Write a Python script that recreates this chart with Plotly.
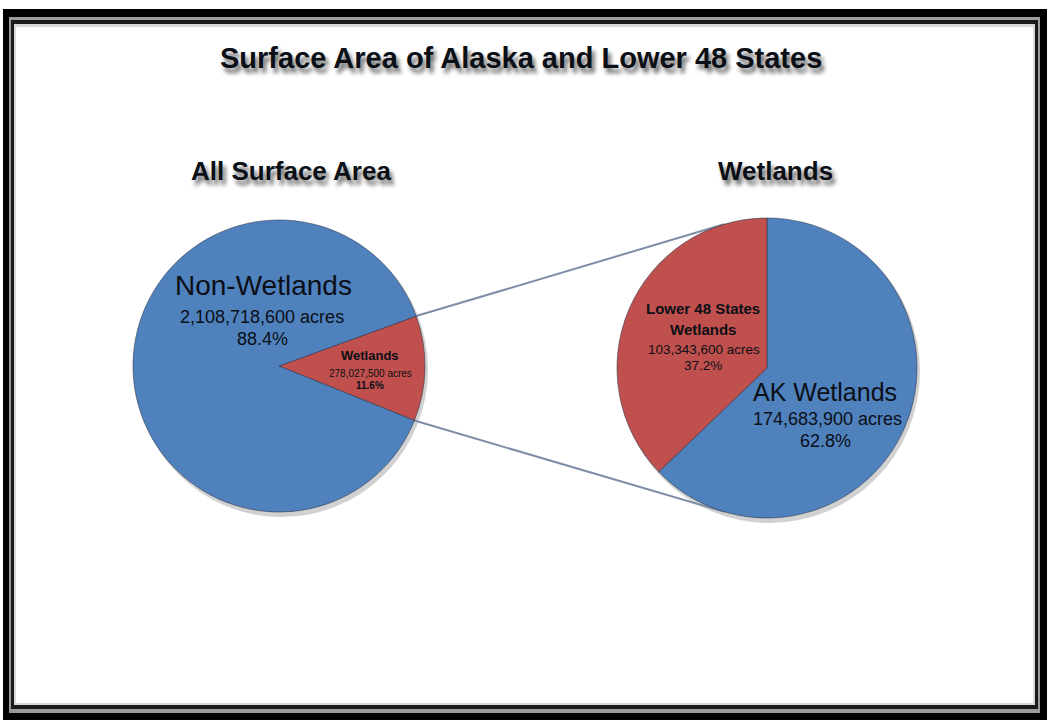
import math
import plotly.graph_objects as go

# ---------------- data ----------------
left_labels = ["Wetlands", "Non-Wetlands"]
left_values = [278027500, 2108718600]
right_labels = ["AK Wetlands", "Lower 48 States Wetlands"]
right_values = [174683900, 103343600]
title_text = "Surface Area of Alaska and Lower 48 States"
left_title = "All Surface Area"
right_title = "Wetlands"

BLUE = "#4F81BD"
RED = "#C0504D"
TXT = "#0b0f16"
W, H = 1047, 720

def fx(x):
    return x / W

def fy(y):
    return 1 - y / H

# pie geometry (pixels)
LCX, LCY, LR = 279, 366, 146
RCX, RCY, RR = 767, 368, 150
L_ROT = 70
R_ROT = 0

fig = go.Figure()
fig.add_trace(go.Pie(
    labels=left_labels, values=left_values, sort=False, direction="clockwise",
    rotation=L_ROT, marker=dict(colors=[RED, BLUE], line=dict(color="rgba(40,50,70,0.55)", width=1)),
    textinfo="none", hoverinfo="label+value+percent",
    domain=dict(x=[fx(LCX - LR), fx(LCX + LR)], y=[fy(LCY + LR), fy(LCY - LR)]),
))
fig.add_trace(go.Pie(
    labels=right_labels, values=right_values, sort=False, direction="clockwise",
    rotation=R_ROT, marker=dict(colors=[BLUE, RED], line=dict(color="rgba(40,50,70,0.55)", width=1)),
    textinfo="none", hoverinfo="label+value+percent",
    domain=dict(x=[fx(RCX - RR), fx(RCX + RR)], y=[fy(RCY + RR), fy(RCY - RR)]),
))

shapes = []
# frame
def rect(x0, y0, x1, y1, color):
    shapes.append(dict(type="rect", xref="paper", yref="paper", layer="below",
                       x0=fx(x0), x1=fx(x1), y0=fy(y1), y1=fy(y0),
                       fillcolor=color, line=dict(width=0)))

rect(3, 9, 1047, 720, "#000000")
rect(9, 17, 1040, 713, "#9a9a9a")
rect(11, 20, 1038, 709, "#1a1a1a")
rect(14, 24, 1035, 705, "#d8d8d8")
rect(16, 27, 1033, 703, "#ffffff")

# soft pie shadows
for cx, cy, r in ((LCX, LCY, LR), (RCX, RCY, RR)):
    shapes.append(dict(type="circle", xref="paper", yref="paper", layer="below",
                       x0=fx(cx - r + 2), x1=fx(cx + r + 3), y0=fy(cy + r + 5), y1=fy(cy - r + 2),
                       fillcolor="rgba(0,0,0,0.18)", line=dict(width=0)))

# connector lines from left wedge edges to tangent points of right pie
tot = sum(left_values)
a1 = math.radians(L_ROT)
a2 = math.radians(L_ROT + 360 * left_values[0] / tot)
P1 = (LCX + LR * math.sin(a1), LCY - LR * math.cos(a1))
P2 = (LCX + LR * math.sin(a2), LCY - LR * math.cos(a2))

def tangent(P, upper):
    dx, dy = P[0] - RCX, P[1] - RCY
    d = math.hypot(dx, dy)
    phi = math.atan2(dy, dx)
    al = math.acos(RR / d)
    cands = [(RCX + RR * math.cos(phi + s * al), RCY + RR * math.sin(phi + s * al)) for s in (1, -1)]
    cands.sort(key=lambda t: t[1])
    return cands[0] if upper else cands[1]

for P, up in ((P1, True), (P2, False)):
    T = tangent(P, up)
    shapes.append(dict(type="line", xref="paper", yref="paper", layer="below",
                       x0=fx(P[0]), y0=fy(P[1]), x1=fx(T[0]), y1=fy(T[1]),
                       line=dict(color="#7d8ea6", width=2)))

annotations = []
def ann(text, x, y, size, bold=False, shadow=None, family="Liberation Sans, Arial, sans-serif"):
    f = dict(size=size, color=TXT, family=family)
    if shadow:
        f["shadow"] = shadow
    if bold:
        f["weight"] = "bold"
    annotations.append(dict(text=text, x=fx(x), y=fy(y), xref="paper", yref="paper",
                            xanchor="center", yanchor="middle", showarrow=False, font=f))

SH = "3px 5px 4px rgba(0,0,0,0.6)"
ann(title_text, 521, 58, 29, bold=True, shadow=SH)
ann(left_title, 291, 171, 26, bold=True, shadow=SH)
ann(right_title, 775, 171, 26, bold=True, shadow=SH)

def pct(v, vals):
    return f"{100 * v / sum(vals):.1f}%"

ann(left_labels[1], 263, 286, 28)
ann(f"{left_values[1]:,} acres", 262, 317, 18)
ann(pct(left_values[1], left_values), 262, 339, 18)

ann(left_labels[0], 370, 355, 13, bold=True)
ann(f"{left_values[0]:,} acres", 370, 373, 10)
ann(pct(left_values[0], left_values), 370, 385, 10, bold=True)

ann("Lower 48 States", 703, 308, 15, bold=True)
ann("Wetlands", 703, 330, 15, bold=True)
ann(f"{right_values[1]:,} acres", 704, 349, 13.5)
ann(pct(right_values[1], right_values), 703, 365, 13.5)

ann(right_labels[0], 825, 392, 25)
ann(f"{right_values[0]:,} acres", 827, 419, 18)
ann(pct(right_values[0], right_values), 825, 441, 18)

fig.update_layout(
    width=W, height=H, margin=dict(l=0, r=0, t=0, b=0),
    paper_bgcolor="white", plot_bgcolor="white", showlegend=False,
    shapes=shapes, annotations=annotations,
)
fig.write_html("out.html")
